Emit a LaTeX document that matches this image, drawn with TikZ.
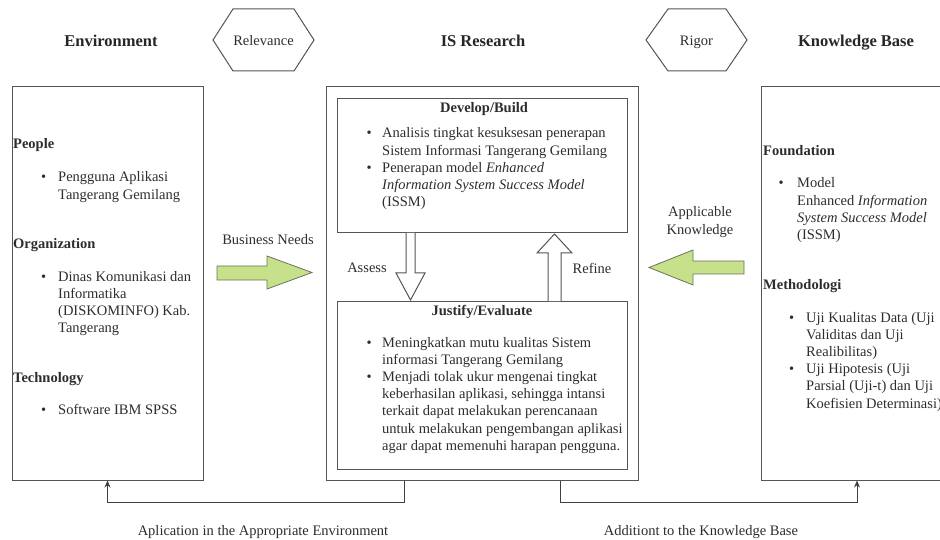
\documentclass[tikz,border=0pt]{standalone}
\usepackage{fontspec}
\setmainfont{Liberation Serif}
\usetikzlibrary{arrows.meta}
\definecolor{linegray}{RGB}{85,85,85}
\definecolor{txtcol}{RGB}{45,45,45}
\definecolor{arrowgreen}{RGB}{199,225,138}
\definecolor{arrowedge}{RGB}{105,115,95}
\newcommand\bux[1]{\makebox[#1][l]{\textbullet}}
\newcommand\blist[1]{\begin{tabular}[t]{@{}l@{}l@{}}#1\end{tabular}}
\begin{document}
\begin{tikzpicture}[x=1pt,y=-1pt,
  box/.style={draw=linegray, line width=1pt, inner sep=0pt},
  txt/.style={inner sep=0pt, text=txtcol, font=\fontsize{14.5}{17.2}\selectfont, anchor=base west},
  hd/.style={txt, font=\fontsize{14.5}{17.2}\selectfont\bfseries},
  ttl/.style={inner sep=0pt, text=black!85, font=\fontsize{16.5}{20}\selectfont\bfseries, anchor=base},
  lbl/.style={inner sep=0pt, text=txtcol, font=\fontsize{14.5}{17.2}\selectfont, align=center},
  hexline/.style={draw=linegray, line width=1pt, line join=miter},
  fatgreen/.style={draw=arrowedge, fill=arrowgreen, line width=0.8pt},
  hollow/.style={draw=linegray, fill=white, line width=1pt},
  conn/.style={draw=black!75, line width=1pt, -{Stealth[length=7pt,width=6pt]}}
]
\useasboundingbox (0,0) rectangle (940,540);

% titles
\node[ttl] (tenv) at (111,46.5) {Environment};
\node[ttl] (tisr) at (483,46.5) {IS Research};
\node[ttl] (tkb) at (856,46.5) {Knowledge Base};

% hexagons
\node[lbl, anchor=base] (rel) at (263.5,46) {Relevance};
\draw[hexline] (213,40) -- (233,9) -- (294,9) -- (314,40) -- (294,71) -- (233,71) -- cycle;
\node[lbl, anchor=base] (rig) at (696.5,46) {Rigor};
\draw[hexline] (646,40) -- (668,9) -- (726,9) -- (747,40) -- (726,71) -- (668,71) -- cycle;

% boxes
\node[box, minimum width=191pt, minimum height=393pt] (env) at (107.5,283.5) {};
\node[box, minimum width=312pt, minimum height=393pt] (isr) at (482,283.5) {};
\node[box, minimum width=290pt, minimum height=134pt] (dev) at (482,166) {};
\node[box, minimum width=290pt, minimum height=168pt] (jus) at (482,385) {};
\node[box, minimum width=192pt, minimum height=393pt] (kb) at (857,283.5) {};

% environment texts
\node[hd] (people) at (13,149) {People};
\node[txt] (peoplel) at (41,182) {\blist{\bux{17pt} & Pengguna Aplikasi\\ & Tangerang Gemilang}};
\node[hd] (org) at (13,248) {Organization};
\node[txt] (orgl) at (41,281) {\blist{\bux{17pt} & Dinas Komunikasi dan\\ & Informatika\\ & (DISKOMINFO) Kab.\\ & Tangerang}};
\node[hd] (tech) at (13,382) {Technology};
\node[txt] (techl) at (41,414) {\blist{\bux{17pt} & Software IBM SPSS}};

% develop/build
\node[hd, anchor=base] (devt) at (484,113) {Develop/Build};
\node[txt] (devl) at (366.5,138) {\blist{\bux{15.5pt} & Analisis tingkat kesuksesan penerapan\\ & Sistem Informasi Tangerang Gemilang\\ \bux{15.5pt} & Penerapan model \textit{Enhanced}\\ & \textit{Information System Success Model}\\ & (ISSM)}};

% justify/evaluate
\node[hd, anchor=base] (just) at (482,315) {Justify/Evaluate};
\node[txt] (jusl) at (366.5,347) {\blist{\bux{15.5pt} & Meningkatkan mutu kualitas Sistem\\ & informasi Tangerang Gemilang\\ \bux{15.5pt} & Menjadi tolak ukur mengenai tingkat\\ & keberhasilan aplikasi, sehingga intansi\\ & terkait dapat melakukan perencanaan\\ & untuk melakukan pengembangan aplikasi\\ & agar dapat memenuhi harapan pengguna.}};

% knowledge base texts
\node[hd] (found) at (763,156) {Foundation};
\node[txt] (foundl) at (778.5,188) {\blist{\bux{18.5pt} & Model\\ & Enhanced \textit{Information}\\ & \textit{System Success Model}\\ & (ISSM)}};
\node[hd] (meth) at (763,290) {Methodologi};
\node[txt] (methl) at (789,322) {\blist{\bux{17pt} & Uji Kualitas Data (Uji\\ & Validitas dan Uji\\ & Realibilitas)\\ \bux{17pt} & Uji Hipotesis (Uji\\ & Parsial (Uji-t) dan Uji\\ & Koefisien Determinasi)}};

% assess / refine hollow arrows
\draw[hollow] (406,233) -- (406,273) -- (396,273) -- (410.5,300) -- (425,273) -- (415,273) -- (415,233);
\draw[hollow] (548,301) -- (548,253) -- (537,253) -- (554.5,234) -- (572,253) -- (561,253) -- (561,301);
\node[lbl] (as) at (367,268) {Assess};
\node[lbl] (rf) at (592,268) {Refine};

% green arrows
\draw[fatgreen] (217,266) -- (267,266) -- (267,256) -- (312,272.5) -- (267,289) -- (267,280) -- (217,280) -- cycle;
\node[lbl] (bn) at (268,240) {Business Needs};
\draw[fatgreen] (744,261) -- (693,261) -- (693,250) -- (649,267.5) -- (693,285) -- (693,274) -- (744,274) -- cycle;
\node[lbl] (ak) at (700,222) {Applicable\\Knowledge};

% bottom connectors
\draw[conn] ([xshift=-78pt]isr.south) -- ++(0,22) -| (env.south);
\draw[conn] ([xshift=78pt]isr.south) -- ++(0,22) -| (kb.south);
\node[lbl, anchor=base] (app) at (263,535) {Aplication in the Appropriate Environment};
\node[lbl, anchor=base] (add) at (701,535) {Additiont to the Knowledge Base};
\end{tikzpicture}
\end{document}
